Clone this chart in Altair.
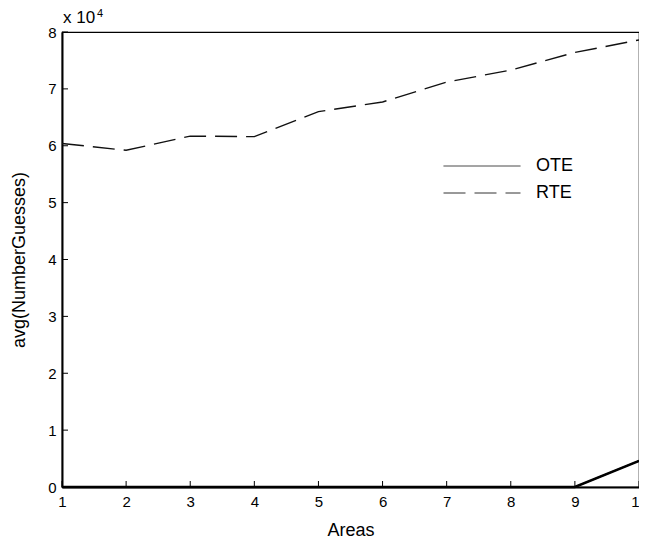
import altair as alt
import pandas as pd

areas = [1, 2, 3, 4, 5, 6, 7, 8, 9, 10]
ote = [0, 0, 0, 0, 0, 0, 0, 0, 0, 4600]
rte = [60400, 59200, 61700, 61600, 66000, 67700, 71200, 73300, 76400, 78600]
series_names = ["OTE", "RTE"]
y_ticks = [0, 10000, 20000, 30000, 40000, 50000, 60000, 70000, 80000]
x_ticks = areas
exp_base = ["x 10"]
exp_power = ["4"]

df = pd.DataFrame({
    "Areas": areas * 2,
    "value": ote + rte,
    "series": ["OTE"] * len(areas) + ["RTE"] * len(areas),
})
ote_df = pd.DataFrame({"Areas": areas, "value": ote})

W, H = 577, 455
FONT = "Liberation Sans"

xscale = alt.Scale(domain=[1, 10], nice=False, zero=False)
yscale = alt.Scale(domain=[0, 80000], nice=False)

x_axis = alt.Axis(values=x_ticks, ticks=False, grid=False, format="d",
                  title="Areas", labelFontSize=15, labelPadding=7,
                  labelFlush=False, labelColor="black",
                  domainColor="black", domainWidth=2,
                  titleFontSize=18, titleFontWeight="normal",
                  titleColor="black",
                  titleX=W / 2, titleY=43, titleBaseline="middle")
y_axis = alt.Axis(values=y_ticks, ticks=False, grid=False,
                  labelExpr="datum.value / 10000",
                  title="avg(NumberGuesses)", labelFontSize=15,
                  labelPadding=6, labelColor="black",
                  domainColor="black", domainWidth=2,
                  titleFontSize=18, titleFontWeight="normal",
                  titleColor="black",
                  titleX=-43, titleY=H / 2, titleBaseline="middle")

lines = alt.Chart(df).mark_line(color="#111111", strokeWidth=1.4).encode(
    x=alt.X("Areas:Q", scale=xscale, axis=x_axis),
    y=alt.Y("value:Q", scale=yscale, axis=y_axis),
    strokeDash=alt.StrokeDash(
        "series:N",
        scale=alt.Scale(domain=series_names, range=[[1, 0], [22, 9]]),
        legend=alt.Legend(title=None, orient="none", legendX=381, legendY=124,
                          symbolType="stroke", symbolSize=5929,
                          symbolStrokeWidth=1, symbolStrokeColor="#333333",
                          clipHeight=20, rowPadding=7, labelOffset=15,
                          labelFontSize=18, labelColor="black",
                          labelBaseline="middle", padding=0)),
)

ote_line = alt.Chart(ote_df).mark_line(color="black", strokeWidth=2.6).encode(
    x=alt.X("Areas:Q", scale=xscale, axis=x_axis),
    y=alt.Y("value:Q", scale=yscale, axis=y_axis),
)

ytick_df = pd.DataFrame({"v": y_ticks})
yticks = alt.Chart(ytick_df).mark_rule(color="black", strokeWidth=1).encode(
    y=alt.Y("v:Q", scale=yscale, axis=y_axis),
    x=alt.value(0), x2=alt.value(6),
)

xtick_df = pd.DataFrame({"t": x_ticks})
xticks = alt.Chart(xtick_df).mark_rule(color="black", strokeWidth=1).encode(
    x=alt.X("t:Q", scale=xscale, axis=x_axis),
    y=alt.value(H - 6), y2=alt.value(H),
)

exp_df = pd.DataFrame({"Areas": [areas[0]], "value": [y_ticks[-1]],
                       "base": exp_base, "power": exp_power})
exp_text = alt.Chart(exp_df).mark_text(
    align="left", baseline="alphabetic", fontSize=17, dx=1, dy=-9,
    color="black", font=FONT).encode(
    x=alt.X("Areas:Q", scale=xscale, axis=x_axis),
    y=alt.Y("value:Q", scale=yscale, axis=y_axis),
    text="base:N",
)
exp_pow = alt.Chart(exp_df).mark_text(
    align="left", baseline="alphabetic", fontSize=11, dx=35, dy=-15,
    color="black", font=FONT).encode(
    x=alt.X("Areas:Q", scale=xscale, axis=x_axis),
    y=alt.Y("value:Q", scale=yscale, axis=y_axis),
    text="power:N",
)

chart = alt.layer(lines, ote_line, yticks, xticks, exp_text, exp_pow).properties(
    width=W, height=H,
    autosize=alt.AutoSizeParams(type="none"),
    padding={"left": 54, "top": 24, "right": 0, "bottom": 52},
).configure(
    font=FONT,
).configure_view(
    stroke="black", strokeWidth=1.2,
)

chart.save("out.html", embed_options={"renderer": "svg", "actions": False})
